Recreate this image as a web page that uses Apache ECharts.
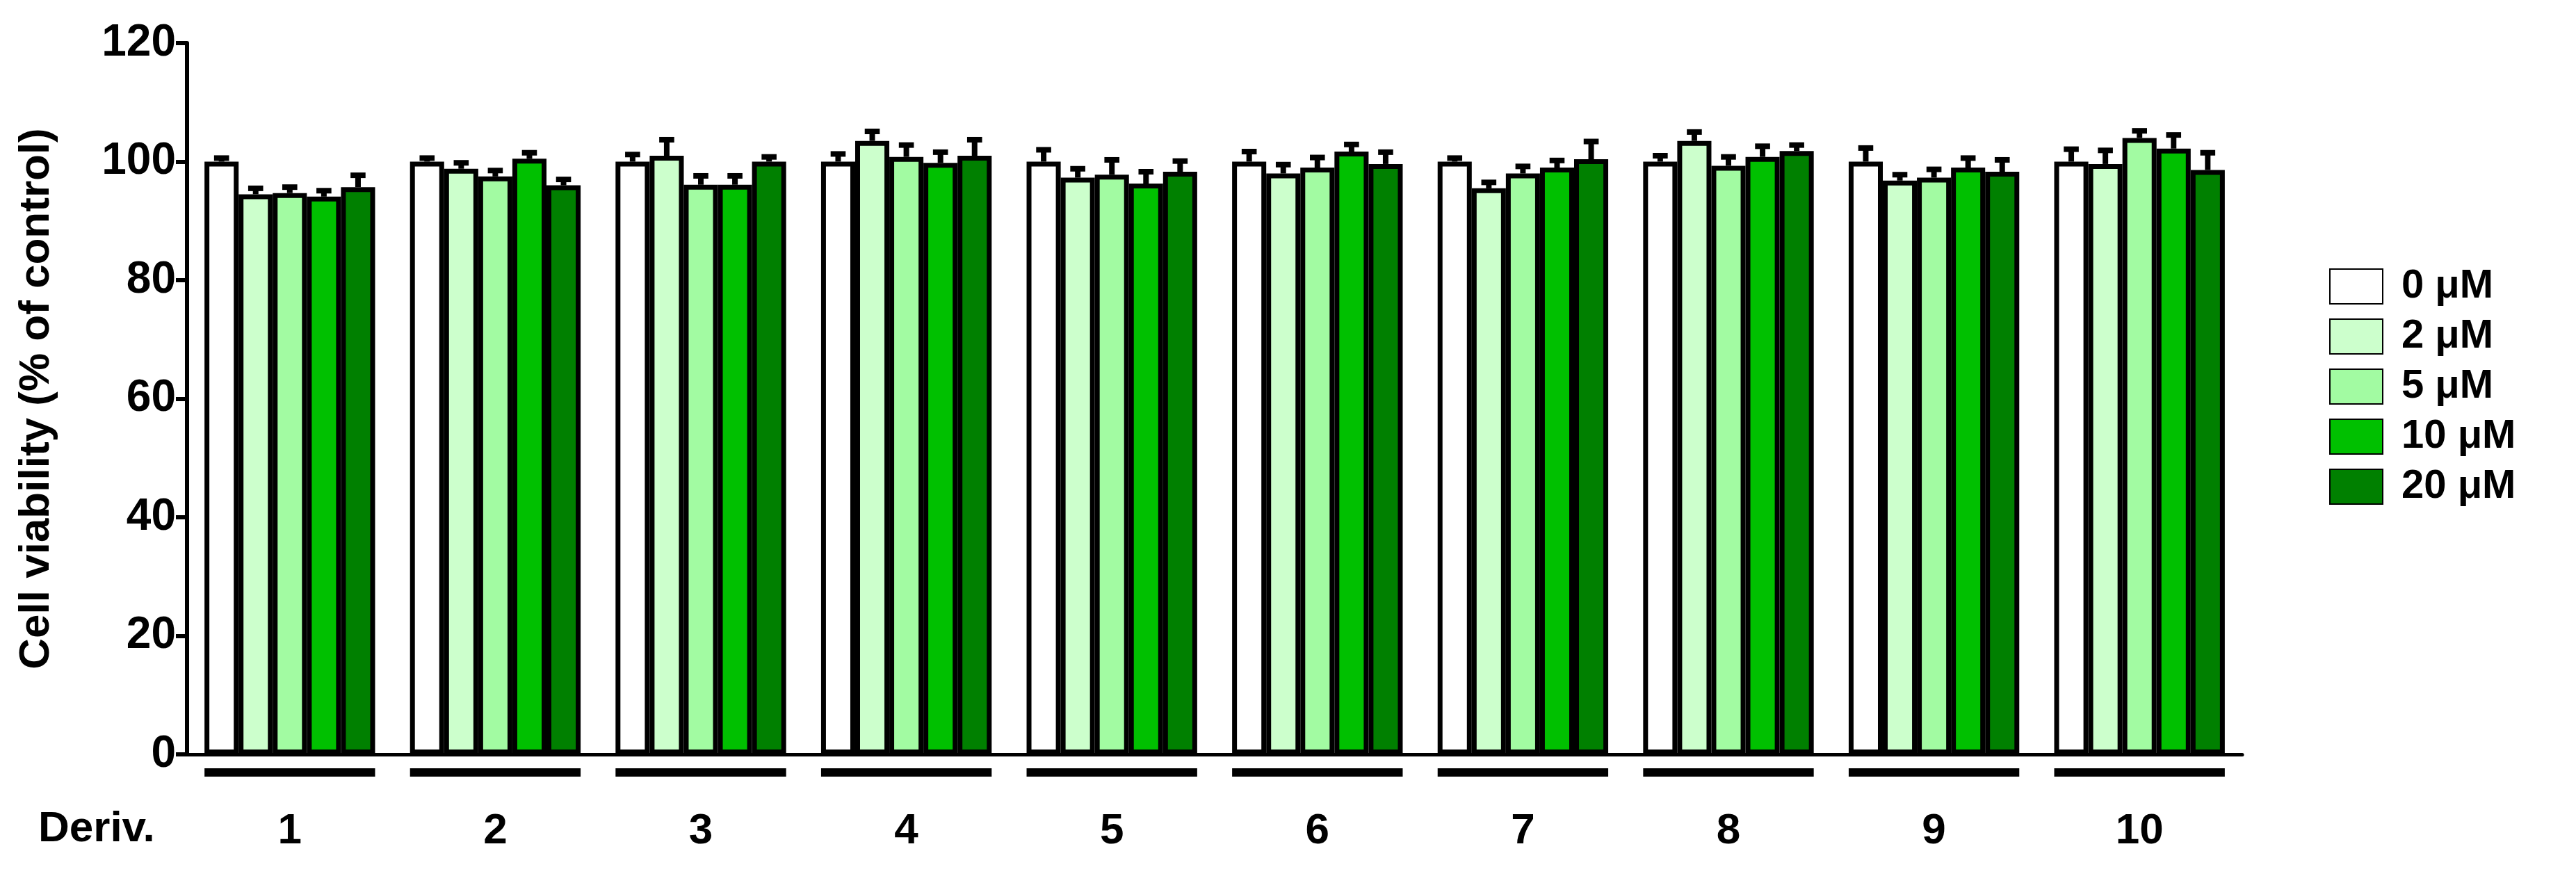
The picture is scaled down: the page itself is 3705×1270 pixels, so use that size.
<!DOCTYPE html>
<html lang="en">
<head>
<meta charset="UTF-8">
<title></title>
<script src="https://cdn.jsdelivr.net/npm/echarts@6/dist/echarts.min.js"></script>
<style>html,body{margin:0;background:#fff}</style>
</head>
<body>
<div id="main" style="width:3705px;height:1270px"></div>
<script>
var derivs = ['1', '2', '3', '4', '5', '6', '7', '8', '9', '10'];
var doses = ['0 \u03bcM', '2 \u03bcM', '5 \u03bcM', '10 \u03bcM', '20 \u03bcM'];
var colors = ['#ffffff', '#ccffcc', '#a2fba2', '#00c000', '#008000'];
var yTicks = [0, 20, 40, 60, 80, 100, 120];

// mean per dose, one value per derivative
var v0  = [100, 100, 100, 100, 100, 100, 100, 100, 100, 100];
var v2  = [94.5, 98.8, 101, 103.5, 97.3, 98, 95.5, 103.5, 96.8, 99.6];
var v5  = [94.7, 97.5, 96.1, 100.8, 97.8, 99, 98, 99.3, 97.3, 104];
var v10 = [94.1, 100.5, 96.1, 99.8, 96.3, 101.7, 99, 100.8, 99, 102.2];
var v20 = [95.7, 96, 100, 101, 98.3, 99.6, 100.4, 101.8, 98.3, 98.6];
// error (SD) per dose
var e0  = [0.6, 0.6, 1.2, 1.3, 2, 1.7, 0.6, 1, 2.3, 2.1];
var e2  = [1, 1, 2.7, 1.6, 1.5, 1.5, 1, 1.5, 1, 2.3];
var e5  = [1, 1, 1.5, 2, 2.5, 1.7, 1.2, 1.5, 1.4, 1.2];
var e10 = [1, 1, 1.5, 1.8, 2, 1.2, 1.2, 1.8, 1.6, 2.3];
var e20 = [2, 1, 0.8, 2.7, 1.8, 2, 3, 1, 2, 2.9];

var means = [v0, v2, v5, v10, v20];
var errs = [e0, e2, e5, e10, e20];
var gapFrac = 0.17;
var font = 'Liberation Sans';

var series = doses.map(function (d, s) {
    return {
        name: d, type: 'bar', data: means[s], barGap: '0%', barCategoryGap: '17%',
        itemStyle: {color: colors[s], borderColor: '#000', borderWidth: 7},
        z: 2
    };
});

var errData = [];
means.forEach(function (arr, s) {
    arr.forEach(function (v, i) { errData.push([i, v, errs[s][i], s]); });
});
series.push({
    type: 'custom', data: errData, z: 5, silent: true,
    renderItem: function (params, api) {
        var band = api.size([1, 0])[0];
        var bw = band * (1 - gapFrac) / 5;
        var c = api.coord([api.value(0), api.value(1)]);
        var t = api.coord([api.value(0), api.value(1) + api.value(2)]);
        var x = c[0] + (api.value(3) - 2) * bw;
        var cap = bw * 0.22;
        var st = {stroke: '#000', lineWidth: 8};
        return {type: 'group', children: [
            {type: 'line', shape: {x1: x, y1: c[1], x2: x, y2: t[1]}, style: st},
            {type: 'line', shape: {x1: x - cap, y1: t[1], x2: x + cap, y2: t[1]}, style: st}
        ]};
    }
});
// group underline bars
series.push({
    type: 'custom', data: derivs.map(function (d, i) { return [i, 0]; }), z: 5, silent: true,
    renderItem: function (params, api) {
        var band = api.size([1, 0])[0];
        var c = api.coord([api.value(0), 0]);
        var half = band * (1 - gapFrac) / 2;
        return {type: 'rect', shape: {x: c[0] - half, y: c[1] + 20, width: half * 2, height: 12},
            style: {fill: '#000'}};
    }
});

var chart = echarts.init(document.getElementById('main'));
chart.setOption({
    animation: false,
    color: colors,
    grid: {left: 269, right: 480, top: 62, bottom: 185},
    legend: {
        orient: 'vertical', left: 3345, top: 378, itemWidth: 76, itemHeight: 50, itemGap: 14,
        icon: 'rect',
        data: doses,
        textStyle: {fontFamily: font, fontWeight: 'bold', fontSize: 58, color: '#000', padding: [0, 0, 0, 22]}
    },
    xAxis: {
        type: 'category', data: derivs,
        axisLine: {lineStyle: {color: '#000', width: 5}},
        axisTick: {show: false},
        axisLabel: {margin: 80, fontFamily: font, fontWeight: 'bold', fontSize: 62, color: '#000'}
    },
    yAxis: {
        type: 'value', min: yTicks[0], max: yTicks[yTicks.length - 1], interval: 20,
        name: 'Cell viability (% of control)', nameLocation: 'middle', nameGap: 185, nameRotate: 90,
        nameTextStyle: {fontFamily: font, fontWeight: 'bold', fontSize: 62, color: '#000'},
        splitLine: {show: false},
        axisLine: {show: true, lineStyle: {color: '#000', width: 6}},
        axisTick: {show: true, length: 16, lineStyle: {color: '#000', width: 6}},
        axisLabel: {margin: 16, fontFamily: 'Liberation Sans Narrow, ' + font, fontWeight: 'bold', fontSize: 64, color: '#000'}
    },
    graphic: [{
        type: 'text', left: 55, top: 1162,
        style: {text: 'Deriv.', font: 'bold 62px Liberation Sans', fill: '#000'}
    }],
    series: series
});
</script>
</body>
</html>
